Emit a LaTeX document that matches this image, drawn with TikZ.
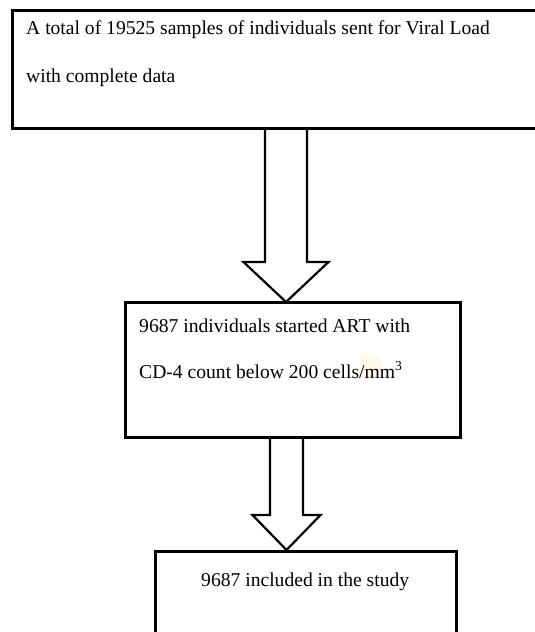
\documentclass[tikz,border=0pt]{standalone}
\usepackage{fontspec}
\setmainfont{Liberation Serif}
\usetikzlibrary{calc}
\tikzset{
  box/.style={draw=black, line width=3pt, fill=white, inner sep=0pt, outer sep=0pt, anchor=north west},
  txt/.style={anchor=base west, inner sep=0pt, font=\fontsize{19.6}{22}\selectfont},
  blockarrow/.style={draw=black, line width=2.2pt, line join=miter}
}
\begin{document}
\begin{tikzpicture}[x=1pt, y=-1pt]
\useasboundingbox (0,0) rectangle (535,632);
\clip (0,0) rectangle (535,632);
% boxes
\node[box, minimum width=533pt, minimum height=118pt] (b1) at (12,10) {};
\node[box, minimum width=335pt, minimum height=135pt] (b2) at (125,302) {};
\node[box, minimum width=301pt, minimum height=110pt] (b3) at (155,551) {};
% faint highlight
\fill[fill={rgb,255:red,255;green,251;blue,234}] (360,355) rectangle (382,378);
% texts
\node[txt] (t1) at (26,34) {A total of 19525 samples of individuals sent for Viral Load};
\node[txt] (t2) at (26,82) {with complete data};
\node[txt] (t3) at (139,332) {9687 individuals started ART with};
\node[txt] (t4) at (139,378) {CD-4 count below 200 cells/mm\textsuperscript{3}};
\node[txt] (t5) at (201,586) {9687 included in the study};
% arrow 1
\coordinate (a1s) at (286,128);
\coordinate (a1t) at (286,302);
\draw[blockarrow] ($(a1s)+(-21,0)$) -- ($(a1t)+(-21,-40)$) -- ($(a1t)+(-42.5,-40)$) -- (a1t)
  -- ($(a1t)+(42.5,-40)$) -- ($(a1t)+(21,-40)$) -- ($(a1s)+(21,0)$);
% arrow 2
\coordinate (a2s) at (286.5,437);
\coordinate (a2t) at (286.5,550);
\draw[blockarrow] ($(a2s)+(-16.5,0)$) -- ($(a2t)+(-16.5,-35)$) -- ($(a2t)+(-34,-35)$) -- (a2t)
  -- ($(a2t)+(34,-35)$) -- ($(a2t)+(16.5,-35)$) -- ($(a2s)+(16.5,0)$);
\end{tikzpicture}
\end{document}
